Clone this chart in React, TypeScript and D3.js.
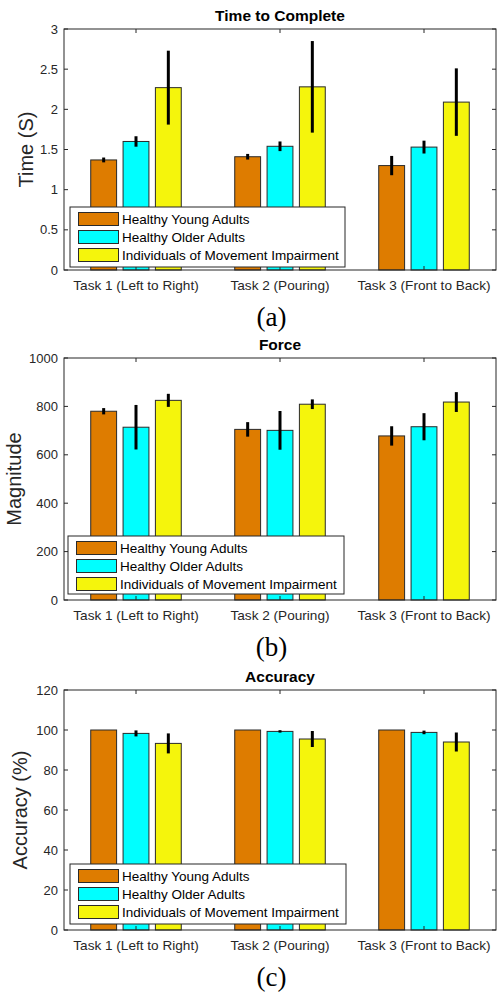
import React from 'react'
import * as d3 from 'd3'

const tasks = ['Task 1 (Left to Right)', 'Task 2 (Pouring)', 'Task 3 (Front to Back)']
const groups = ['Healthy Young Adults', 'Healthy Older Adults', 'Individuals of Movement Impairment']
const groupColors = ['#DE7C00', '#00FFFF', '#F5F50C']

// values per group, one entry per task
const timeValues = [
  [1.37, 1.41, 1.30],
  [1.60, 1.54, 1.53],
  [2.27, 2.28, 2.09],
]
const timeErrors = [
  [0.03, 0.035, 0.12],
  [0.065, 0.06, 0.08],
  [0.46, 0.57, 0.42],
]
const forceValues = [
  [780, 705, 678],
  [714, 701, 716],
  [825, 809, 818],
]
const forceErrors = [
  [13, 30, 40],
  [92, 80, 56],
  [27, 20, 41],
]
const accuracyValues = [
  [100, 100, 100],
  [98.3, 99.3, 98.8],
  [93.3, 95.5, 94.0],
]
const accuracyErrors = [
  [0, 0, 0],
  [1.5, 0.6, 0.9],
  [5, 4, 4.75],
]

const timeTicks = [0, 0.5, 1, 1.5, 2, 2.5, 3]
const forceTicks = [0, 200, 400, 600, 800, 1000]
const accuracyTicks = [0, 20, 40, 60, 80, 100, 120]

const sans = '"Liberation Sans", Arial, Helvetica, sans-serif'
const serif = '"Liberation Serif", "Times New Roman", serif'
const axisColor = '#262626'

interface PanelProps {
  title: string
  yLabel: string
  labelX: number
  caption: string
  values: number[][]
  errors: number[][]
  ticks: number[]
  yMax: number
  top: number
  bottom: number
  legend: { x: number; y: number; w: number; h: number }
}

function Panel({ title, yLabel, labelX, caption, values, errors, ticks, yMax, top, bottom, legend }: PanelProps) {
  const left = 64
  const right = 496
  const x0 = d3.scaleBand().domain(tasks).range([left, right]).padding(0)
  const bw = x0.bandwidth()
  const x1 = d3.scaleBand<number>()
    .domain([0, 1, 2])
    .range([(bw - 97) / 2, (bw + 97) / 2])
    .paddingInner(0.2)
    .paddingOuter(0.1)
  const y = d3.scaleLinear().domain([0, yMax]).range([bottom, top])
  const cx = (left + right) / 2

  return (
    <g>
      {/* bars */}
      {groups.map((g, gi) => (
        <g key={g}>
          {tasks.map((t, ti) => {
            const v = values[gi][ti]
            const bx = (x0(t) || 0) + (x1(gi) || 0)
            return (
              <rect key={t} x={bx} y={y(v)} width={x1.bandwidth()} height={bottom - y(v)}
                fill={groupColors[gi]} stroke="#2a2a2a" strokeWidth={1} />
            )
          })}
        </g>
      ))}
      {/* error bars */}
      {groups.map((g, gi) => tasks.map((t, ti) => {
        const e = errors[gi][ti]
        if (!e) return null
        const v = values[gi][ti]
        const mx = (x0(t) || 0) + (x1(gi) || 0) + x1.bandwidth() / 2
        return <line key={g + t} x1={mx} x2={mx} y1={y(v + e)} y2={y(v - e)} stroke="#000" strokeWidth={3} />
      }))}
      {/* box */}
      <rect x={left} y={top} width={right - left} height={bottom - top} fill="none" stroke={axisColor} strokeWidth={1} />
      {ticks.map(tk => (
        <g key={tk}>
          <line x1={left} x2={left + 4} y1={y(tk)} y2={y(tk)} stroke={axisColor} />
          <line x1={right - 4} x2={right} y1={y(tk)} y2={y(tk)} stroke={axisColor} />
          <text x={left - 6} y={y(tk) + 4.5} textAnchor="end" fontFamily={sans} fontSize={13} fill={axisColor}>{String(tk)}</text>
        </g>
      ))}
      {tasks.map(t => {
        const tx = (x0(t) || 0) + bw / 2
        return (
          <g key={t}>
            <line x1={tx} x2={tx} y1={bottom} y2={bottom - 4} stroke={axisColor} />
            <line x1={tx} x2={tx} y1={top} y2={top + 4} stroke={axisColor} />
            <text x={tx} y={bottom + 20} textAnchor="middle" fontFamily={sans} fontSize={13.6} fill={axisColor}>{t}</text>
          </g>
        )
      })}
      <text x={cx} y={top - 8} textAnchor="middle" fontFamily={sans} fontSize={15.5} fontWeight="bold" fill="#000">{title}</text>
      <text transform={`translate(${labelX},${(top + bottom) / 2}) rotate(-90)`} textAnchor="middle"
        fontFamily={sans} fontSize={20} fill={axisColor}>{yLabel}</text>
      {/* legend */}
      <g transform={`translate(${legend.x},${legend.y})`}>
        <rect width={legend.w} height={legend.h} fill="#fff" stroke={axisColor} strokeWidth={1} />
        {groups.map((g, gi) => (
          <g key={g} transform={`translate(0,${12 + gi * 18})`}>
            <rect x={8.5} y={-6.5} width={40} height={13} fill={groupColors[gi]} stroke="#2a2a2a" />
            <text x={52} y={5} fontFamily={sans} fontSize={13.5} fill="#000">{g}</text>
          </g>
        ))}
      </g>
      <text x={271.5} y={bottom + 56} textAnchor="middle" fontFamily={serif} fontSize={27} fill="#000">{caption}</text>
    </g>
  )
}

export default function App() {
  return (
    <svg width={498} height={992} style={{ position: 'absolute', left: 0, top: 0, background: '#fff' }}>
      <Panel title="Time to Complete" yLabel="Time (S)" labelX={33} caption="(a)" values={timeValues} errors={timeErrors}
        ticks={timeTicks} yMax={3} top={29} bottom={270} legend={{ x: 70, y: 207, w: 275, h: 60 }} />
      <Panel title="Force" yLabel="Magnitude" labelX={21} caption="(b)" values={forceValues} errors={forceErrors}
        ticks={forceTicks} yMax={1000} top={358} bottom={600} legend={{ x: 68, y: 536, w: 276, h: 58 }} />
      <Panel title="Accuracy" yLabel="Accuracy (%)" labelX={27} caption="(c)" values={accuracyValues} errors={accuracyErrors}
        ticks={accuracyTicks} yMax={120} top={690} bottom={930} legend={{ x: 70, y: 864, w: 276, h: 60 }} />
    </svg>
  )
}
